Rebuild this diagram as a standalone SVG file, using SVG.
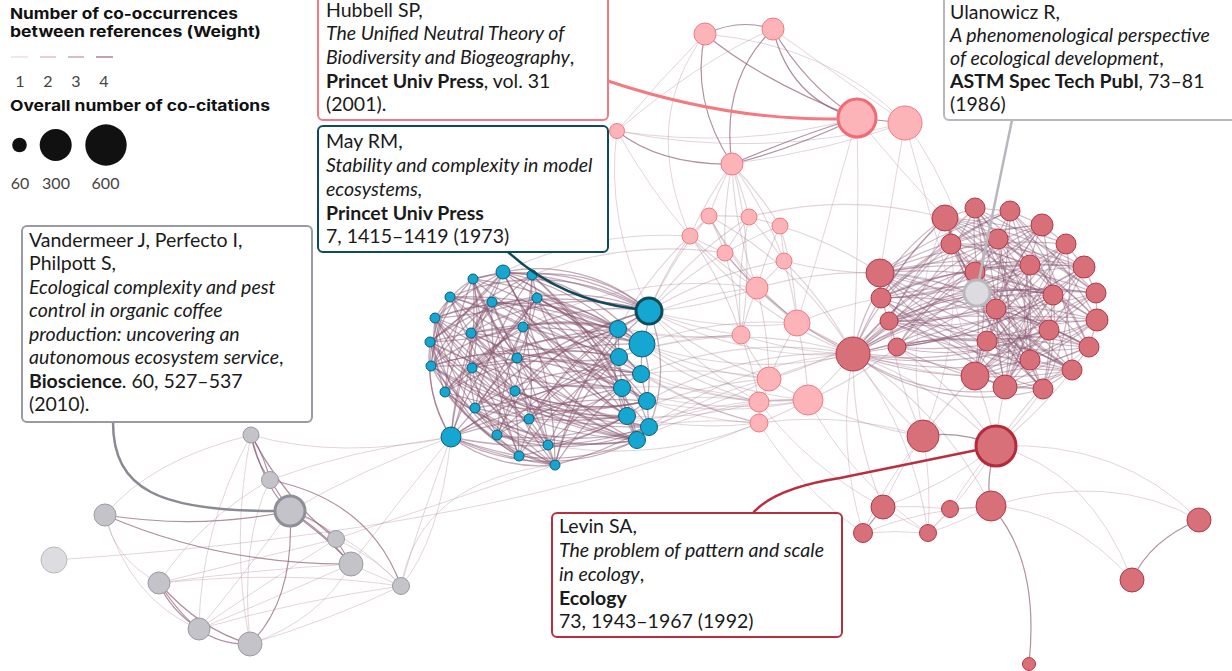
<svg xmlns="http://www.w3.org/2000/svg" width="1232" height="671" viewBox="0 0 1232 671">
<style>
.e{fill:none;stroke:#8a5873;stroke-opacity:.42;stroke-width:1.25}
.eb{fill:none;stroke:#87566f;stroke-opacity:.5;stroke-width:1.3}
.m{fill:none;stroke:#9a6f86;stroke-opacity:.3;stroke-width:1.1}
.l{fill:none;stroke:#b894a7;stroke-opacity:.4;stroke-width:1}
.k{fill:none;stroke:#8f6079;stroke-opacity:.7;stroke-width:1.2}
.b{fill:#16a6d2;stroke:#0c5d72;stroke-width:1}
.p{fill:#fdb4b8;stroke:#f37980;stroke-width:1}
.r{fill:#d8707a;stroke:#b73545;stroke-width:1}
.g{fill:#c3c3c9;stroke:#9b9ba3;stroke-width:1}
.t{font-family:Lato,"Liberation Sans",sans-serif;font-size:19.5px;fill:#1a1a1a}
.i{font-style:italic}
.bd{font-weight:700}
.lg{font-family:Inter,"Open Sans","Liberation Sans",sans-serif;font-weight:700;font-size:15px;fill:#111}
.n{font-family:Lato,"Liberation Sans",sans-serif;font-size:16px;fill:#444}
.bx{fill:#fff;stroke-width:2}
.co{fill:none}
</style>
<rect width="1232" height="671" fill="#fff"/>
<g id="connectors">
<g class="eb">
<path d="M503 272A380 380 0 0 1 649 311"/><path d="M503 272A380 380 0 0 0 642 344"/><path d="M503 272A380 380 0 0 1 641 374"/><path d="M503 272A380 380 0 0 0 627 416"/><path d="M503 272A380 380 0 0 0 435 318"/><path d="M503 272A380 380 0 0 0 431 366"/><path d="M503 272A380 380 0 0 0 451 437"/><path d="M503 272A380 380 0 0 1 555 465"/><path d="M503 272A380 380 0 0 1 430 342"/>
<path d="M473 279A380 380 0 0 1 618 329"/><path d="M473 279A380 380 0 0 0 619 357"/><path d="M473 279A380 380 0 0 1 647 401"/><path d="M473 279A380 380 0 0 0 445 392"/><path d="M473 279A380 380 0 0 1 451 437"/><path d="M473 279A380 380 0 0 1 519 456"/><path d="M473 279A380 380 0 0 0 517 358"/>
<path d="M532 275A380 380 0 0 0 649 311"/><path d="M532 275A380 380 0 0 1 622 388"/><path d="M532 275A380 380 0 0 1 637 440"/><path d="M532 275A380 380 0 0 0 430 342"/><path d="M532 275A380 380 0 0 0 475 408"/><path d="M532 275A380 380 0 0 1 497 435"/>
<path d="M450 297A380 380 0 0 1 618 329"/><path d="M450 297A380 380 0 0 0 641 374"/><path d="M450 297A380 380 0 0 1 649 427"/><path d="M450 297A380 380 0 0 1 523 327"/><path d="M450 297A380 380 0 0 0 515 391"/><path d="M450 297A380 380 0 0 0 548 445"/><path d="M450 297A380 380 0 0 1 555 465"/>
<path d="M492 302A380 380 0 0 1 642 344"/><path d="M492 302A380 380 0 0 1 627 416"/><path d="M492 302A380 380 0 0 0 431 366"/><path d="M492 302A380 380 0 0 1 529 419"/><path d="M492 302A380 380 0 0 0 519 456"/>
<path d="M537 298A380 380 0 0 1 619 357"/><path d="M537 298A380 380 0 0 0 647 401"/><path d="M537 298A380 380 0 0 1 435 318"/><path d="M537 298A380 380 0 0 1 445 392"/><path d="M537 298A380 380 0 0 0 451 437"/>
<path d="M435 318A380 380 0 0 1 649 311"/><path d="M435 318A380 380 0 0 0 622 388"/><path d="M435 318A380 380 0 0 0 637 440"/><path d="M435 318A380 380 0 0 1 517 358"/><path d="M435 318A380 380 0 0 0 529 419"/><path d="M435 318A380 380 0 0 0 555 465"/>
<path d="M471 333A380 380 0 0 1 618 329"/><path d="M471 333A380 380 0 0 1 647 401"/><path d="M471 333A380 380 0 0 0 649 427"/><path d="M471 333A380 380 0 0 1 548 445"/><path d="M471 333A380 380 0 0 1 532 275"/>
<path d="M523 327A380 380 0 0 1 641 374"/><path d="M523 327A380 380 0 0 0 627 416"/><path d="M523 327A380 380 0 0 1 430 342"/><path d="M523 327A380 380 0 0 1 451 437"/><path d="M523 327A380 380 0 0 0 497 435"/>
<path d="M430 342A380 380 0 0 1 642 344"/><path d="M430 342A380 380 0 0 0 622 388"/><path d="M430 342A380 380 0 0 0 637 440"/><path d="M430 342A380 380 0 0 1 515 391"/><path d="M430 342A380 380 0 0 0 548 445"/>
<path d="M517 358A380 380 0 0 0 649 311"/><path d="M517 358A380 380 0 0 1 647 401"/><path d="M517 358A380 380 0 0 1 431 366"/><path d="M517 358A380 380 0 0 0 475 408"/>
<path d="M431 366A380 380 0 0 1 619 357"/><path d="M431 366A380 380 0 0 0 627 416"/><path d="M431 366A380 380 0 0 0 649 427"/><path d="M431 366A380 380 0 0 0 529 419"/><path d="M431 366A380 380 0 0 0 555 465"/>
<path d="M472 368A380 380 0 0 1 618 329"/><path d="M472 368A380 380 0 0 1 641 374"/><path d="M472 368A380 380 0 0 0 637 440"/><path d="M472 368A380 380 0 0 0 537 298"/><path d="M472 368A380 380 0 0 1 519 456"/>
<path d="M445 392A380 380 0 0 1 642 344"/><path d="M445 392A380 380 0 0 0 647 401"/><path d="M445 392A380 380 0 0 1 523 327"/><path d="M445 392A380 380 0 0 0 548 445"/>
<path d="M515 391A380 380 0 0 1 622 388"/><path d="M515 391A380 380 0 0 0 649 427"/><path d="M515 391A380 380 0 0 1 451 437"/>
<path d="M475 408A380 380 0 0 1 649 311"/><path d="M475 408A380 380 0 0 0 619 357"/><path d="M475 408A380 380 0 0 0 627 416"/><path d="M475 408A380 380 0 0 0 555 465"/>
<path d="M529 419A380 380 0 0 1 618 329"/><path d="M529 419A380 380 0 0 0 637 440"/><path d="M529 419A380 380 0 0 0 451 437"/>
<path d="M451 437A380 380 0 0 1 641 374"/><path d="M451 437A380 380 0 0 1 647 401"/><path d="M451 437A380 380 0 0 0 649 427"/><path d="M451 437A380 380 0 0 1 492 302"/><path d="M451 437A380 380 0 0 0 519 456"/><path d="M451 437A380 380 0 0 0 555 465"/>
<path d="M497 435A380 380 0 0 1 642 344"/><path d="M497 435A380 380 0 0 1 622 388"/><path d="M497 435A380 380 0 0 0 637 440"/>
<path d="M519 456A380 380 0 0 1 619 357"/><path d="M519 456A380 380 0 0 0 627 416"/>
<path d="M548 445A380 380 0 0 1 649 311"/><path d="M548 445A380 380 0 0 1 641 374"/>
<path d="M555 465A380 380 0 0 1 618 329"/><path d="M555 465A380 380 0 0 1 622 388"/><path d="M555 465A380 380 0 0 0 649 427"/><path d="M555 465A380 380 0 0 1 473 279"/>
<path d="M649 311L618 329"/><path d="M618 329L619 357"/><path d="M642 344L641 374"/><path d="M619 357L622 388"/><path d="M641 374L647 401"/><path d="M622 388L627 416"/><path d="M647 401L649 427"/><path d="M627 416L637 440"/>
<path d="M649 311A100 100 0 0 1 642 344"/><path d="M642 344A100 100 0 0 1 647 401"/><path d="M618 329A150 150 0 0 0 637 440"/><path d="M649 311A150 150 0 0 1 649 427"/>
<path d="M473 279A120 120 0 0 0 435 318"/><path d="M430 342A150 150 0 0 0 451 437"/><path d="M435 318A150 150 0 0 0 445 392"/><path d="M451 437A150 150 0 0 0 555 465"/><path d="M503 272L473 279"/><path d="M503 272L532 275"/>
<path d="M503 272A220 220 0 0 1 637 440"/><path d="M503 272A220 220 0 0 0 622 388"/><path d="M473 279A220 220 0 0 1 649 311"/><path d="M473 279A220 220 0 0 0 649 427"/><path d="M532 275A220 220 0 0 1 642 344"/><path d="M532 275A220 220 0 0 0 627 416"/><path d="M450 297A220 220 0 0 1 622 388"/><path d="M450 297A220 220 0 0 1 649 311"/><path d="M492 302A220 220 0 0 0 637 440"/><path d="M492 302A220 220 0 0 1 641 374"/><path d="M537 298A220 220 0 0 1 649 427"/><path d="M537 298A220 220 0 0 0 618 329"/><path d="M435 318A220 220 0 0 1 642 344"/><path d="M435 318A220 220 0 0 0 627 416"/><path d="M471 333A220 220 0 0 0 619 357"/><path d="M471 333A220 220 0 0 1 649 311"/><path d="M523 327A220 220 0 0 0 637 440"/><path d="M523 327A220 220 0 0 1 618 329"/><path d="M430 342A220 220 0 0 0 627 416"/><path d="M430 342A220 220 0 0 1 649 311"/><path d="M517 358A220 220 0 0 0 637 440"/><path d="M517 358A220 220 0 0 1 619 357"/><path d="M431 366A220 220 0 0 1 622 388"/><path d="M431 366A220 220 0 0 1 618 329"/><path d="M472 368A220 220 0 0 0 647 401"/><path d="M472 368A220 220 0 0 1 642 344"/><path d="M445 392A220 220 0 0 0 649 427"/><path d="M445 392A220 220 0 0 1 649 311"/><path d="M515 391A220 220 0 0 1 618 329"/><path d="M515 391A220 220 0 0 0 647 401"/><path d="M475 408A220 220 0 0 0 637 440"/><path d="M475 408A220 220 0 0 1 641 374"/><path d="M529 419A220 220 0 0 1 619 357"/><path d="M529 419A220 220 0 0 0 622 388"/><path d="M497 435A220 220 0 0 1 649 311"/><path d="M497 435A220 220 0 0 0 627 416"/><path d="M519 456A220 220 0 0 1 618 329"/><path d="M519 456A220 220 0 0 0 637 440"/><path d="M548 445A220 220 0 0 0 647 401"/><path d="M555 465A220 220 0 0 1 619 357"/>
<path d="M435 318A220 220 0 0 0 475 408"/><path d="M430 342A220 220 0 0 0 497 435"/><path d="M431 366A220 220 0 0 0 519 456"/><path d="M445 392A220 220 0 0 0 555 465"/><path d="M473 279A220 220 0 0 1 472 368"/><path d="M492 302A220 220 0 0 0 445 392"/><path d="M532 275A220 220 0 0 1 523 327"/><path d="M537 298A220 220 0 0 1 517 358"/><path d="M503 272A220 220 0 0 1 471 333"/><path d="M450 297A220 220 0 0 0 431 366"/><path d="M471 333A220 220 0 0 0 475 408"/><path d="M523 327A220 220 0 0 1 529 419"/><path d="M517 358A220 220 0 0 1 548 445"/><path d="M472 368A220 220 0 0 0 497 435"/><path d="M475 408A220 220 0 0 0 519 456"/><path d="M529 419A220 220 0 0 1 555 465"/>
<path d="M450 297A130 130 0 0 0 451 437"/><path d="M473 279A140 140 0 0 0 431 366"/><path d="M503 272A170 170 0 0 1 649 311"/><path d="M532 275A150 150 0 0 1 649 311"/><path d="M435 318A160 160 0 0 0 519 456"/><path d="M430 342A160 160 0 0 0 555 465"/><path d="M451 437A200 200 0 0 0 637 440"/><path d="M497 435A200 200 0 0 0 649 427"/><path d="M503 272A250 250 0 0 1 618 329"/><path d="M537 298A250 250 0 0 1 642 344"/>
</g>
<g class="e">
<path d="M945 218A380 380 0 0 1 1066 244"/><path d="M945 218A380 380 0 0 1 1084 267"/><path d="M945 218A380 380 0 0 0 1053 295"/><path d="M945 218A380 380 0 0 1 1097 320"/><path d="M945 218A380 380 0 0 0 1030 360"/><path d="M945 218A380 380 0 0 0 1043 389"/><path d="M945 218A380 380 0 0 0 881 298"/><path d="M945 218A380 380 0 0 0 853 354"/>
<path d="M975 208A380 380 0 0 1 1096 293"/><path d="M975 208A380 380 0 0 0 1049 330"/><path d="M975 208A380 380 0 0 1 1089 347"/><path d="M975 208A380 380 0 0 0 1072 370"/><path d="M975 208A380 380 0 0 1 975 376"/><path d="M975 208A380 380 0 0 0 889 321"/>
<path d="M1010 211A380 380 0 0 0 951 244"/><path d="M1010 211A380 380 0 0 0 881 298"/><path d="M1010 211A380 380 0 0 1 987 341"/><path d="M1010 211A380 380 0 0 0 1005 387"/><path d="M1010 211A380 380 0 0 1 1097 320"/><path d="M1010 211A380 380 0 0 0 880 273"/>
<path d="M1042 225A380 380 0 0 0 880 273"/><path d="M1042 225A380 380 0 0 1 975 272"/><path d="M1042 225A380 380 0 0 0 996 309"/><path d="M1042 225A380 380 0 0 0 975 376"/><path d="M1042 225A380 380 0 0 0 897 347"/><path d="M1042 225A380 380 0 0 1 1043 389"/>
<path d="M951 244A380 380 0 0 1 1084 267"/><path d="M951 244A380 380 0 0 0 1053 295"/><path d="M951 244A380 380 0 0 0 1089 347"/><path d="M951 244A380 380 0 0 1 1005 387"/><path d="M951 244A380 380 0 0 1 1042 225"/>
<path d="M998 239A380 380 0 0 1 1096 293"/><path d="M998 239A380 380 0 0 0 897 347"/><path d="M998 239A380 380 0 0 1 1072 370"/><path d="M998 239A380 380 0 0 1 880 273"/><path d="M998 239A380 380 0 0 0 1043 389"/>
<path d="M1066 244A380 380 0 0 0 880 273"/><path d="M1066 244A380 380 0 0 1 881 298"/><path d="M1066 244A380 380 0 0 0 996 309"/><path d="M1066 244A380 380 0 0 1 975 376"/><path d="M1066 244A380 380 0 0 0 1005 387"/>
<path d="M1030 265A380 380 0 0 1 889 321"/><path d="M1030 265A380 380 0 0 0 897 347"/><path d="M1030 265A380 380 0 0 0 975 376"/><path d="M1030 265A380 380 0 0 0 951 244"/><path d="M1030 265A380 380 0 0 1 975 208"/>
<path d="M1084 267A380 380 0 0 0 975 272"/><path d="M1084 267A380 380 0 0 1 987 341"/><path d="M1084 267A380 380 0 0 1 1005 387"/><path d="M1084 267A380 380 0 0 0 881 298"/><path d="M1084 267A380 380 0 0 0 853 354"/>
<path d="M880 273A380 380 0 0 1 1096 293"/><path d="M880 273A380 380 0 0 0 1097 320"/><path d="M880 273A380 380 0 0 0 1089 347"/><path d="M880 273A380 380 0 0 1 1049 330"/><path d="M880 273A380 380 0 0 0 1030 360"/><path d="M880 273A380 380 0 0 1 1053 295"/><path d="M880 273A380 380 0 0 1 1030 265"/>
<path d="M975 272A380 380 0 0 1 1097 320"/><path d="M975 272A380 380 0 0 0 1030 360"/><path d="M975 272A380 380 0 0 1 1043 389"/><path d="M975 272A380 380 0 0 0 1072 370"/>
<path d="M1096 293A380 380 0 0 1 996 309"/><path d="M1096 293A380 380 0 0 0 889 321"/><path d="M1096 293A380 380 0 0 0 975 376"/><path d="M1096 293A380 380 0 0 0 945 218"/>
<path d="M881 298A380 380 0 0 1 1053 295"/><path d="M881 298A380 380 0 0 0 1072 370"/><path d="M881 298A380 380 0 0 1 1089 347"/><path d="M881 298A380 380 0 0 0 1043 389"/><path d="M881 298A380 380 0 0 1 1030 265"/>
<path d="M1053 295A380 380 0 0 1 897 347"/><path d="M1053 295A380 380 0 0 1 975 376"/><path d="M1053 295A380 380 0 0 0 1005 387"/><path d="M1053 295A380 380 0 0 0 1010 211"/>
<path d="M996 309A380 380 0 0 1 1089 347"/><path d="M996 309A380 380 0 0 0 1072 370"/><path d="M996 309A380 380 0 0 1 889 321"/><path d="M996 309A380 380 0 0 0 975 208"/>
<path d="M889 321A380 380 0 0 1 1097 320"/><path d="M889 321A380 380 0 0 0 1030 360"/><path d="M889 321A380 380 0 0 1 1096 293"/><path d="M889 321A380 380 0 0 0 1084 267"/><path d="M889 321A380 380 0 0 1 1072 370"/>
<path d="M1097 320A380 380 0 0 0 987 341"/><path d="M1097 320A380 380 0 0 1 975 376"/><path d="M1097 320A380 380 0 0 0 897 347"/>
<path d="M1049 330A380 380 0 0 1 975 376"/><path d="M1049 330A380 380 0 0 1 897 347"/><path d="M1049 330A380 380 0 0 0 945 218"/>
<path d="M897 347A380 380 0 0 0 1043 389"/><path d="M897 347A380 380 0 0 1 1089 347"/><path d="M897 347A380 380 0 0 0 1053 295"/>
<path d="M987 341A380 380 0 0 1 1043 389"/><path d="M987 341A380 380 0 0 0 1072 370"/><path d="M987 341A380 380 0 0 1 1066 244"/>
<path d="M1089 347A380 380 0 0 1 975 376"/><path d="M1089 347A380 380 0 0 0 1005 387"/>
<path d="M1030 360A380 380 0 0 1 945 218"/><path d="M1030 360A380 380 0 0 0 1010 211"/>
<path d="M975 376A380 380 0 0 0 1072 370"/><path d="M975 376A380 380 0 0 0 1084 267"/>
<path d="M1072 370A380 380 0 0 1 1005 387"/><path d="M1072 370A380 380 0 0 1 951 244"/><path d="M1005 387A380 380 0 0 0 998 239"/>
<path d="M853 354A380 380 0 0 0 975 208"/><path d="M853 354A380 380 0 0 1 1042 225"/><path d="M853 354A380 380 0 0 0 998 239"/><path d="M853 354A380 380 0 0 1 975 272"/><path d="M853 354A380 380 0 0 0 1030 265"/><path d="M853 354A380 380 0 0 1 996 309"/><path d="M853 354A380 380 0 0 0 1049 330"/><path d="M853 354A380 380 0 0 1 987 341"/><path d="M853 354A380 380 0 0 0 1030 360"/><path d="M853 354A380 380 0 0 0 975 376"/><path d="M853 354A380 380 0 0 1 1005 387"/><path d="M853 354A380 380 0 0 0 1097 320"/><path d="M853 354A380 380 0 0 1 1096 293"/>
<path d="M977 293A380 380 0 0 1 1010 211"/><path d="M977 293A380 380 0 0 0 1053 295"/><path d="M977 293A380 380 0 0 1 880 273"/><path d="M977 293A380 380 0 0 1 975 376"/>
<path d="M945 218L975 208"/><path d="M975 208L1010 211"/><path d="M1010 211L1042 225"/><path d="M1042 225L1066 244"/><path d="M1066 244L1084 267"/><path d="M1084 267L1096 293"/><path d="M1096 293L1097 320"/><path d="M1097 320L1089 347"/><path d="M1089 347L1072 370"/><path d="M1072 370L1043 389"/><path d="M1043 389L1005 387"/><path d="M1005 387L975 376"/><path d="M880 273L881 298"/><path d="M881 298L889 321"/><path d="M889 321L897 347"/><path d="M897 347L853 354"/>
<path d="M945 218A220 220 0 0 1 1049 330"/><path d="M945 218A220 220 0 0 0 1089 347"/><path d="M975 208A220 220 0 0 1 1030 360"/><path d="M975 208A220 220 0 0 0 1043 389"/><path d="M1010 211A220 220 0 0 1 1072 370"/><path d="M1010 211A220 220 0 0 0 889 321"/><path d="M1042 225A220 220 0 0 1 881 298"/><path d="M1042 225A220 220 0 0 0 1030 360"/><path d="M951 244A220 220 0 0 1 1097 320"/><path d="M951 244A220 220 0 0 0 1072 370"/><path d="M998 239A220 220 0 0 1 1089 347"/><path d="M998 239A220 220 0 0 0 881 298"/><path d="M1066 244A220 220 0 0 1 897 347"/><path d="M1066 244A220 220 0 0 1 1043 389"/><path d="M1030 265A220 220 0 0 0 1097 320"/><path d="M1030 265A220 220 0 0 1 1005 387"/><path d="M1084 267A220 220 0 0 1 889 321"/><path d="M1084 267A220 220 0 0 0 975 376"/><path d="M880 273A220 220 0 0 0 1072 370"/><path d="M880 273A220 220 0 0 1 1043 389"/><path d="M975 272A220 220 0 0 1 1089 347"/><path d="M975 272A220 220 0 0 0 881 298"/><path d="M1096 293A220 220 0 0 1 897 347"/><path d="M1096 293A220 220 0 0 0 1005 387"/><path d="M881 298A220 220 0 0 0 1097 320"/><path d="M881 298A220 220 0 0 1 1005 387"/><path d="M1053 295A220 220 0 0 1 1043 389"/><path d="M1053 295A220 220 0 0 0 889 321"/><path d="M996 309A220 220 0 0 0 1043 389"/><path d="M996 309A220 220 0 0 0 880 273"/><path d="M889 321A220 220 0 0 0 1049 330"/><path d="M889 321A220 220 0 0 1 1005 387"/><path d="M1097 320A220 220 0 0 1 1030 360"/><path d="M897 347A220 220 0 0 1 1072 370"/><path d="M987 341A220 220 0 0 0 1089 347"/><path d="M1049 330A220 220 0 0 0 1005 387"/><path d="M853 354A220 220 0 0 1 1089 347"/><path d="M853 354A220 220 0 0 0 1072 370"/><path d="M853 354A220 220 0 0 0 1043 389"/><path d="M853 354A220 220 0 0 1 1053 295"/><path d="M853 354A220 220 0 0 1 1084 267"/><path d="M853 354A220 220 0 0 1 945 218"/><path d="M853 354A220 220 0 0 1 951 244"/>
</g>
<g class="m">
<path d="M649 311A380 380 0 0 1 690 236"/><path d="M649 311A380 380 0 0 1 725 253"/><path d="M649 311A380 380 0 0 0 757 288"/><path d="M649 311A380 380 0 0 0 741 335"/><path d="M649 311A380 380 0 0 1 709 216"/><path d="M649 311A380 380 0 0 1 749 217"/><path d="M649 311A380 380 0 0 0 797 323"/><path d="M649 311A380 380 0 0 0 853 354"/><path d="M649 311A380 380 0 0 0 769 379"/><path d="M649 311A380 380 0 0 0 759 402"/><path d="M649 311A380 380 0 0 1 784 261"/>
<path d="M618 329A380 380 0 0 1 757 288"/><path d="M618 329A380 380 0 0 0 741 335"/><path d="M618 329A380 380 0 0 0 759 402"/><path d="M618 329A380 380 0 0 1 690 236"/>
<path d="M642 344A380 380 0 0 1 797 323"/><path d="M642 344A380 380 0 0 0 769 379"/><path d="M642 344A380 380 0 0 0 808 400"/><path d="M642 344A380 380 0 0 0 853 354"/>
<path d="M619 357A380 380 0 0 1 741 335"/><path d="M619 357A380 380 0 0 0 759 402"/><path d="M619 357A380 380 0 0 0 759 423"/><path d="M619 357A380 380 0 0 1 853 354"/>
<path d="M641 374A380 380 0 0 1 769 379"/><path d="M641 374A380 380 0 0 0 808 400"/><path d="M641 374A380 380 0 0 1 853 354"/><path d="M641 374A380 380 0 0 0 759 423"/>
<path d="M622 388A380 380 0 0 0 808 400"/><path d="M622 388A380 380 0 0 1 759 402"/>
<path d="M647 401A380 380 0 0 1 759 402"/><path d="M647 401A380 380 0 0 0 759 423"/><path d="M647 401A380 380 0 0 1 853 354"/><path d="M647 401A380 380 0 0 0 808 400"/>
<path d="M627 416A380 380 0 0 1 769 379"/><path d="M627 416A380 380 0 0 0 759 423"/>
<path d="M649 427A380 380 0 0 1 759 423"/><path d="M649 427A380 380 0 0 1 808 400"/><path d="M649 427A380 380 0 0 1 853 354"/>
<path d="M637 440A380 380 0 0 1 759 402"/><path d="M637 440A380 380 0 0 1 769 379"/>
<path d="M709 216A380 380 0 0 1 749 217"/><path d="M709 216A380 380 0 0 0 690 236"/><path d="M709 216A380 380 0 0 1 725 253"/><path d="M709 216A380 380 0 0 0 757 288"/><path d="M709 216A380 380 0 0 0 797 323"/>
<path d="M749 217A380 380 0 0 1 780 226"/><path d="M749 217A380 380 0 0 0 725 253"/><path d="M749 217A380 380 0 0 1 784 261"/><path d="M749 217A380 380 0 0 0 741 335"/>
<path d="M690 236A380 380 0 0 0 725 253"/><path d="M690 236A380 380 0 0 0 757 288"/><path d="M690 236A380 380 0 0 1 741 335"/>
<path d="M780 226A380 380 0 0 0 725 253"/><path d="M780 226A380 380 0 0 1 784 261"/><path d="M780 226A380 380 0 0 0 757 288"/><path d="M780 226A380 380 0 0 1 797 323"/>
<path d="M725 253A380 380 0 0 0 757 288"/><path d="M725 253A380 380 0 0 0 797 323"/><path d="M725 253A380 380 0 0 1 741 335"/>
<path d="M784 261A380 380 0 0 1 757 288"/><path d="M784 261A380 380 0 0 1 797 323"/>
<path d="M757 288A380 380 0 0 1 797 323"/><path d="M757 288A380 380 0 0 0 741 335"/><path d="M757 288A380 380 0 0 1 769 379"/>
<path d="M797 323A380 380 0 0 0 769 379"/><path d="M797 323A380 380 0 0 1 808 400"/>
<path d="M741 335A380 380 0 0 0 769 379"/><path d="M741 335A380 380 0 0 1 759 402"/>
<path d="M769 379A380 380 0 0 0 808 400"/><path d="M769 379A380 380 0 0 1 759 402"/><path d="M808 400A380 380 0 0 0 759 402"/><path d="M759 402A380 380 0 0 1 759 423"/><path d="M769 379A380 380 0 0 0 759 423"/><path d="M808 400A380 380 0 0 1 759 423"/>
<path d="M709 216A380 380 0 0 1 853 354"/><path d="M690 236A380 380 0 0 0 853 354"/><path d="M725 253A380 380 0 0 0 853 354"/><path d="M757 288A380 380 0 0 0 853 354"/><path d="M797 323A380 380 0 0 1 853 354"/><path d="M741 335A380 380 0 0 0 853 354"/><path d="M769 379A380 380 0 0 1 853 354"/><path d="M808 400A380 380 0 0 0 853 354"/><path d="M784 261A380 380 0 0 1 853 354"/>
<path d="M757 288A380 380 0 0 1 880 273"/><path d="M797 323A380 380 0 0 1 881 298"/><path d="M808 400A380 380 0 0 0 897 347"/><path d="M769 379A380 380 0 0 0 889 321"/><path d="M784 261A380 380 0 0 0 880 273"/><path d="M749 217A380 380 0 0 1 945 218"/><path d="M780 226A380 380 0 0 1 880 273"/><path d="M797 323A380 380 0 0 0 975 376"/><path d="M808 400A380 380 0 0 0 923 436"/><path d="M759 423A380 380 0 0 1 923 436"/>
<path d="M732 164A380 380 0 0 0 709 216"/><path d="M732 164A380 380 0 0 1 749 217"/><path d="M732 164A380 380 0 0 0 690 236"/><path d="M732 164A380 380 0 0 1 780 226"/><path d="M732 164A380 380 0 0 0 725 253"/><path d="M732 164A380 380 0 0 1 784 261"/><path d="M732 164A380 380 0 0 0 757 288"/><path d="M732 164A380 380 0 0 1 741 335"/>
<path d="M503 272A380 380 0 0 1 690 236"/><path d="M532 275A380 380 0 0 1 725 253"/><path d="M537 298A380 380 0 0 0 741 335"/><path d="M523 327A380 380 0 0 1 757 288"/><path d="M515 391A380 380 0 0 0 759 402"/><path d="M548 445A380 380 0 0 0 759 423"/><path d="M529 419A380 380 0 0 0 769 379"/>
<path d="M853 354A380 380 0 0 0 923 436"/><path d="M853 354A380 380 0 0 1 996 446"/><path d="M853 354A380 380 0 0 0 883 507"/><path d="M853 354A380 380 0 0 1 991 506"/><path d="M975 376A380 380 0 0 0 923 436"/><path d="M975 376A380 380 0 0 1 996 446"/><path d="M1005 387A380 380 0 0 0 996 446"/><path d="M1043 389A380 380 0 0 1 996 446"/><path d="M897 347A380 380 0 0 1 996 446"/><path d="M889 321A380 380 0 0 0 923 436"/><path d="M1089 347A380 380 0 0 0 996 446"/><path d="M1072 370A380 380 0 0 1 996 446"/>
</g>
<g class="l">
<path d="M996 446A380 380 0 0 0 950 509"/><path d="M996 446A380 380 0 0 1 928 533"/><path d="M996 446A380 380 0 0 1 883 507"/><path d="M923 436A380 380 0 0 0 883 507"/><path d="M923 436A380 380 0 0 1 928 533"/><path d="M923 436A380 380 0 0 0 863 533"/><path d="M883 507A380 380 0 0 1 950 509"/><path d="M883 507A380 380 0 0 0 928 533"/><path d="M950 509A380 380 0 0 0 991 506"/><path d="M863 533A380 380 0 0 1 928 533"/><path d="M928 533A380 380 0 0 0 991 506"/><path d="M863 533A380 380 0 0 1 991 506"/><path d="M950 509L928 533"/>
<path d="M996 446Q1120 440 1199 520"/><path d="M996 446Q1090 470 1132 580"/><path d="M991 506Q1110 470 1199 520"/><path d="M991 506Q1070 510 1132 580"/>
<path d="M945 218A380 380 0 0 0 923 436"/><path d="M951 244A380 380 0 0 1 923 436"/><path d="M759 402A380 380 0 0 0 883 507"/><path d="M759 423A380 380 0 0 0 863 533"/><path d="M808 400A380 380 0 0 0 928 533"/><path d="M853 354A380 380 0 0 0 863 533"/><path d="M853 354A380 380 0 0 1 928 533"/>
<path d="M617 131Q660 80 705 34"/><path d="M617 131Q700 60 773 29"/><path d="M617 131Q740 150 857 118"/><path d="M617 131Q760 160 905 123"/><path d="M705 34Q830 45 905 123"/><path d="M773 29Q830 70 905 123"/><path d="M732 164Q830 150 905 123"/>
<path d="M857 118Q860 240 853 354"/><path d="M857 118Q900 170 945 218"/><path d="M905 123Q895 180 880 273"/><path d="M905 123Q935 160 960 225"/><path d="M905 123Q940 250 975 376"/><path d="M857 118Q820 250 797 323"/>
<path d="M690 236Q640 120 705 34"/><path d="M649 311Q605 220 617 131"/><path d="M690 236Q650 190 617 131"/>
<path d="M54 560Q500 530 759 423"/><path d="M336 539Q450 500 555 465"/>
<path d="M251 435Q150 460 105 515"/><path d="M251 435Q340 460 451 437"/><path d="M251 435Q230 540 250 644"/><path d="M251 435Q200 530 199 629"/><path d="M270 480Q350 450 451 437"/><path d="M270 480Q200 520 159 583"/><path d="M290 511Q360 540 401 586"/><path d="M290 511Q240 580 199 629"/><path d="M105 515Q115 560 159 583"/><path d="M105 515Q130 600 199 629"/><path d="M336 539Q380 560 401 586"/><path d="M351 564Q250 570 159 583"/><path d="M351 564Q270 600 199 629"/><path d="M351 564Q375 575 401 586"/><path d="M159 583Q290 570 401 586"/><path d="M159 583Q250 560 336 539"/><path d="M199 629Q300 600 401 586"/><path d="M199 629Q270 580 336 539"/><path d="M250 644Q240 540 270 480"/><path d="M250 644Q330 620 401 586"/><path d="M250 644Q320 620 351 564"/><path d="M401 586Q440 540 451 437"/><path d="M451 437Q420 520 401 586"/><path d="M451 437Q400 500 351 564"/><path d="M451 437Q360 470 290 511"/><path d="M401 586Q420 480 555 465"/>
</g>
<g class="k">
<path d="M705 34Q740 18 773 29"/><path d="M705 34Q760 80 857 118"/><path d="M705 34Q690 100 732 164"/><path d="M773 29Q720 80 732 164"/><path d="M773 29Q790 100 857 118"/><path d="M773 29Q805 85 857 118"/><path d="M617 131Q660 165 732 164"/><path d="M732 164Q790 150 857 118"/><path d="M732 164Q800 135 857 118"/><path d="M857 118L905 123"/>
<path d="M923 436Q960 430 996 446"/><path d="M996 446Q985 480 991 506"/><path d="M883 507L863 533"/><path d="M1199 520Q1150 540 1132 580"/><path d="M991 506Q1040 560 1029 664"/>
<path d="M251 435Q255 460 270 480"/><path d="M251 435Q264 455 270 480"/><path d="M251 435Q265 490 290 511"/><path d="M251 435Q285 500 336 539"/><path d="M270 480L290 511"/><path d="M270 480Q370 500 401 586"/><path d="M290 511Q200 530 105 515"/><path d="M290 511Q320 520 336 539"/><path d="M290 511Q330 540 351 564"/><path d="M290 511Q322 530 351 564"/><path d="M290 511Q295 600 250 644"/><path d="M105 515Q220 565 351 564"/><path d="M336 539L351 564"/><path d="M159 583Q170 610 199 629"/><path d="M159 583Q180 615 199 629"/><path d="M159 583Q200 630 250 644"/><path d="M199 629Q220 645 250 644"/>
</g>
</g>
<g id="nodes">
<g id="n-b1"><circle class="b" cx="503" cy="272" r="7"/></g>
<g id="n-b2"><circle class="b" cx="473" cy="279" r="5"/></g>
<g id="n-b3"><circle class="b" cx="532" cy="275" r="5"/></g>
<g id="n-b4"><circle class="b" cx="450" cy="297" r="5"/></g>
<g id="n-b5"><circle class="b" cx="492" cy="302" r="5"/></g>
<g id="n-b6"><circle class="b" cx="537" cy="298" r="5"/></g>
<g id="n-b7"><circle class="b" cx="435" cy="318" r="5"/></g>
<g id="n-b8"><circle class="b" cx="471" cy="333" r="5"/></g>
<g id="n-b9"><circle class="b" cx="523" cy="327" r="5"/></g>
<g id="n-b10"><circle class="b" cx="430" cy="342" r="5"/></g>
<g id="n-b11"><circle class="b" cx="517" cy="358" r="5"/></g>
<g id="n-b12"><circle class="b" cx="431" cy="366" r="5"/></g>
<g id="n-b13"><circle class="b" cx="472" cy="368" r="5"/></g>
<g id="n-b14"><circle class="b" cx="445" cy="392" r="5"/></g>
<g id="n-b15"><circle class="b" cx="515" cy="391" r="5"/></g>
<g id="n-b16"><circle class="b" cx="475" cy="408" r="5"/></g>
<g id="n-b17"><circle class="b" cx="529" cy="419" r="5"/></g>
<g id="n-b18"><circle class="b" cx="451" cy="437" r="10"/></g>
<g id="n-b19"><circle class="b" cx="497" cy="435" r="5"/></g>
<g id="n-b20"><circle class="b" cx="519" cy="456" r="5"/></g>
<g id="n-b21"><circle class="b" cx="548" cy="445" r="5"/></g>
<g id="n-b22"><circle class="b" cx="555" cy="465" r="5"/></g>
<g id="n-may"><circle class="b" cx="649" cy="311" r="13" style="stroke:#0d4a5a;stroke-width:3"/></g>
<g id="n-br1"><circle class="b" cx="618" cy="329" r="8.5"/></g>
<g id="n-br2"><circle class="b" cx="642" cy="344" r="13"/></g>
<g id="n-br3"><circle class="b" cx="619" cy="357" r="8.5"/></g>
<g id="n-br4"><circle class="b" cx="641" cy="374" r="8.5"/></g>
<g id="n-br5"><circle class="b" cx="622" cy="388" r="8.5"/></g>
<g id="n-br6"><circle class="b" cx="647" cy="401" r="8.5"/></g>
<g id="n-br7"><circle class="b" cx="627" cy="416" r="8.5"/></g>
<g id="n-br8"><circle class="b" cx="649" cy="427" r="8.5"/></g>
<g id="n-br9"><circle class="b" cx="637" cy="440" r="8.5"/></g>
<g id="n-p1"><circle class="p" cx="705" cy="34" r="11"/></g>
<g id="n-p2"><circle class="p" cx="773" cy="29" r="11"/></g>
<g id="n-p3"><circle class="p" cx="617" cy="131" r="7.5"/></g>
<g id="n-p4"><circle class="p" cx="732" cy="164" r="11"/></g>
<g id="n-hubbell"><circle class="p" cx="857" cy="118" r="19" style="stroke:#f06b73;stroke-width:3"/></g>
<g id="n-p6"><circle class="p" cx="905" cy="123" r="17"/></g>
<g id="n-q1"><circle class="p" cx="709" cy="216" r="8"/></g>
<g id="n-q2"><circle class="p" cx="749" cy="217" r="8"/></g>
<g id="n-q3"><circle class="p" cx="690" cy="236" r="8"/></g>
<g id="n-q4"><circle class="p" cx="780" cy="226" r="8"/></g>
<g id="n-q5"><circle class="p" cx="725" cy="253" r="8"/></g>
<g id="n-q6"><circle class="p" cx="784" cy="261" r="8"/></g>
<g id="n-q7"><circle class="p" cx="757" cy="288" r="11"/></g>
<g id="n-q8"><circle class="p" cx="797" cy="323" r="13"/></g>
<g id="n-q9"><circle class="p" cx="741" cy="335" r="9"/></g>
<g id="n-q10"><circle class="p" cx="769" cy="379" r="12"/></g>
<g id="n-q11"><circle class="p" cx="808" cy="400" r="15"/></g>
<g id="n-q12"><circle class="p" cx="759" cy="402" r="10"/></g>
<g id="n-q13"><circle class="p" cx="759" cy="423" r="9"/></g>
<g id="n-rb"><circle class="r" cx="853" cy="354" r="17"/></g>
<g id="n-r1"><circle class="r" cx="945" cy="218" r="13"/></g>
<g id="n-r2"><circle class="r" cx="975" cy="208" r="10"/></g>
<g id="n-r3"><circle class="r" cx="1010" cy="211" r="10"/></g>
<g id="n-r4"><circle class="r" cx="1042" cy="225" r="11"/></g>
<g id="n-r5"><circle class="r" cx="951" cy="244" r="10"/></g>
<g id="n-r6"><circle class="r" cx="998" cy="239" r="10"/></g>
<g id="n-r7"><circle class="r" cx="1066" cy="244" r="10"/></g>
<g id="n-r8"><circle class="r" cx="1030" cy="265" r="10"/></g>
<g id="n-r9"><circle class="r" cx="1084" cy="267" r="11"/></g>
<g id="n-r10"><circle class="r" cx="880" cy="273" r="14"/></g>
<g id="n-r11"><circle class="r" cx="975" cy="272" r="10"/></g>
<g id="n-r12"><circle class="r" cx="1096" cy="293" r="10"/></g>
<g id="n-r13"><circle class="r" cx="881" cy="298" r="10"/></g>
<g id="n-r14"><circle class="r" cx="1053" cy="295" r="10"/></g>
<g id="n-r15"><circle class="r" cx="996" cy="309" r="10"/></g>
<g id="n-r16"><circle class="r" cx="889" cy="321" r="9"/></g>
<g id="n-r17"><circle class="r" cx="1097" cy="320" r="11"/></g>
<g id="n-r18"><circle class="r" cx="1049" cy="330" r="10"/></g>
<g id="n-r19"><circle class="r" cx="897" cy="347" r="9"/></g>
<g id="n-r20"><circle class="r" cx="987" cy="341" r="10"/></g>
<g id="n-r21"><circle class="r" cx="1089" cy="347" r="10"/></g>
<g id="n-r22"><circle class="r" cx="1030" cy="360" r="10"/></g>
<g id="n-r23"><circle class="r" cx="975" cy="376" r="14"/></g>
<g id="n-r24"><circle class="r" cx="1072" cy="370" r="10"/></g>
<g id="n-r25"><circle class="r" cx="1005" cy="387" r="12"/></g>
<g id="n-r26"><circle class="r" cx="1043" cy="389" r="10"/></g>
<g id="n-ulanowicz"><circle cx="977" cy="293" r="13" fill="#dcdce0" stroke="#b8b8be" stroke-width="3"/></g>
<g id="n-l1"><circle class="r" cx="923" cy="436" r="16"/></g>
<g id="n-levin"><circle class="r" cx="996" cy="446" r="20" style="stroke:#b52a3a;stroke-width:3"/></g>
<g id="n-l3"><circle class="r" cx="883" cy="507" r="12"/></g>
<g id="n-l4"><circle class="r" cx="950" cy="509" r="8.5"/></g>
<g id="n-l5"><circle class="r" cx="991" cy="506" r="15"/></g>
<g id="n-l6"><circle class="r" cx="863" cy="533" r="9.5"/></g>
<g id="n-l7"><circle class="r" cx="928" cy="533" r="8.5"/></g>
<g id="n-l8"><circle class="r" cx="1199" cy="520" r="12"/></g>
<g id="n-l9"><circle class="r" cx="1132" cy="580" r="12"/></g>
<g id="n-l10"><circle class="r" cx="1029" cy="664" r="6.5"/></g>
<g id="n-g1"><circle class="g" cx="251" cy="435" r="8"/></g>
<g id="n-g2"><circle class="g" cx="270" cy="480" r="8.5"/></g>
<g id="n-vandermeer"><circle class="g" cx="290" cy="511" r="15" style="stroke:#8f8f98;stroke-width:3"/></g>
<g id="n-g4"><circle class="g" cx="105" cy="515" r="11"/></g>
<g id="n-g5"><circle class="g" cx="336" cy="539" r="8.5"/></g>
<g id="n-g6"><circle cx="54" cy="560" r="13" fill="#dcdce1" stroke="#b9b9c0"/></g>
<g id="n-g7"><circle class="g" cx="351" cy="564" r="12"/></g>
<g id="n-g8"><circle class="g" cx="159" cy="583" r="11"/></g>
<g id="n-g9"><circle class="g" cx="401" cy="586" r="8.5"/></g>
<g id="n-g10"><circle class="g" cx="199" cy="629" r="11"/></g>
<g id="n-g11"><circle class="g" cx="250" cy="644" r="12"/></g>
</g>
<g id="callout-lines">
<path class="co" d="M608 81C680 105 760 120 838 119" stroke="#f47a82" stroke-width="3"/>
<path class="co" d="M507 251Q560 300 636 309" stroke="#0d4a5a" stroke-width="2.5"/>
<path class="co" d="M113 422C113 490 160 511 274 511" stroke="#8a8a93" stroke-width="2.5"/>
<path class="co" d="M1012 120L979 280" stroke="#b7b7bd" stroke-width="2.5"/>
<path class="co" d="M753 513Q775 488 840 478L977 450" stroke="#b83040" stroke-width="2.5"/>
</g>
<g id="box-hubbell">
<rect class="bx" x="318" y="-10" width="290" height="130" rx="5" stroke="#f47a82"/>
<text class="t" x="326" y="17">Hubbell SP,</text>
<text class="t i" x="326" y="40">The Unified Neutral Theory of</text>
<text class="t" x="326" y="64"><tspan class="i">Biodiversity and Biogeography</tspan>,</text>
<text class="t" x="326" y="88"><tspan class="bd">Princet Univ Press</tspan>, vol. 31</text>
<text class="t" x="326" y="111">(2001).</text>
</g>
<g id="box-may">
<rect class="bx" x="318" y="126" width="290" height="126" rx="5" stroke="#0d4a5a"/>
<text class="t" x="326" y="148">May RM,</text>
<text class="t i" x="326" y="172">Stability and complexity in model</text>
<text class="t i" x="326" y="196">ecosystems,</text>
<text class="t bd" x="326" y="220">Princet Univ Press</text>
<text class="t" x="326" y="243">7, 1415–1419 (1973)</text>
</g>
<g id="box-vandermeer">
<rect class="bx" x="22" y="226" width="290" height="196" rx="5" stroke="#9a9aa2"/>
<text class="t" x="29" y="247">Vandermeer J, Perfecto I,</text>
<text class="t" x="29" y="270">Philpott S,</text>
<text class="t i" x="29" y="294">Ecological complexity and pest</text>
<text class="t i" x="29" y="317">control in organic coffee</text>
<text class="t i" x="29" y="341">production: uncovering an</text>
<text class="t" x="29" y="364"><tspan class="i">autonomous ecosystem service</tspan>,</text>
<text class="t" x="29" y="388"><tspan class="bd">Bioscience</tspan>. 60, 527–537</text>
<text class="t" x="29" y="411">(2010).</text>
</g>
<g id="box-ulanowicz">
<rect class="bx" x="944" y="-10" width="320" height="130" rx="5" stroke="#b7b7bd"/>
<text class="t" x="950" y="19">Ulanowicz R,</text>
<text class="t i" x="950" y="42">A phenomenological perspective</text>
<text class="t" x="950" y="65"><tspan class="i">of ecological development</tspan>,</text>
<text class="t" x="950" y="88"><tspan class="bd">ASTM Spec Tech Publ</tspan>, 73–81</text>
<text class="t" x="950" y="111">(1986)</text>
</g>
<g id="box-levin">
<rect class="bx" x="552" y="513" width="290" height="124" rx="5" stroke="#b83040"/>
<text class="t" x="559" y="533">Levin SA,</text>
<text class="t i" x="559" y="557">The problem of pattern and scale</text>
<text class="t" x="559" y="581"><tspan class="i">in ecology</tspan>,</text>
<text class="t bd" x="559" y="605">Ecology</text>
<text class="t" x="559" y="628">73, 1943–1967 (1992)</text>
</g>
<g id="legend">
<text class="lg" x="10" y="19" textLength="228" lengthAdjust="spacingAndGlyphs">Number of co-occurrences</text>
<text class="lg" x="10" y="37" textLength="251" lengthAdjust="spacingAndGlyphs">between references (Weight)</text>
<line x1="11" y1="57" x2="28" y2="57" stroke="#f3e6ea" stroke-width="2"/>
<line x1="40" y1="57" x2="56" y2="57" stroke="#e6d1da" stroke-width="2"/>
<line x1="68" y1="57" x2="84" y2="57" stroke="#d8bccb" stroke-width="2"/>
<line x1="96" y1="57" x2="113" y2="57" stroke="#c4a0b3" stroke-width="2"/>
<text class="n" x="20" y="87" text-anchor="middle">1</text>
<text class="n" x="48" y="87" text-anchor="middle">2</text>
<text class="n" x="76" y="87" text-anchor="middle">3</text>
<text class="n" x="104" y="87" text-anchor="middle">4</text>
<text class="lg" x="10" y="111" textLength="260" lengthAdjust="spacingAndGlyphs">Overall number of co-citations</text>
<circle cx="19.5" cy="145" r="7.3" fill="#111"/>
<circle cx="55.7" cy="145" r="16" fill="#111"/>
<circle cx="106" cy="145" r="20.7" fill="#111"/>
<text class="n" x="20" y="189" text-anchor="middle">60</text>
<text class="n" x="56" y="189" text-anchor="middle">300</text>
<text class="n" x="105.5" y="189" text-anchor="middle">600</text>
</g>
</svg>
